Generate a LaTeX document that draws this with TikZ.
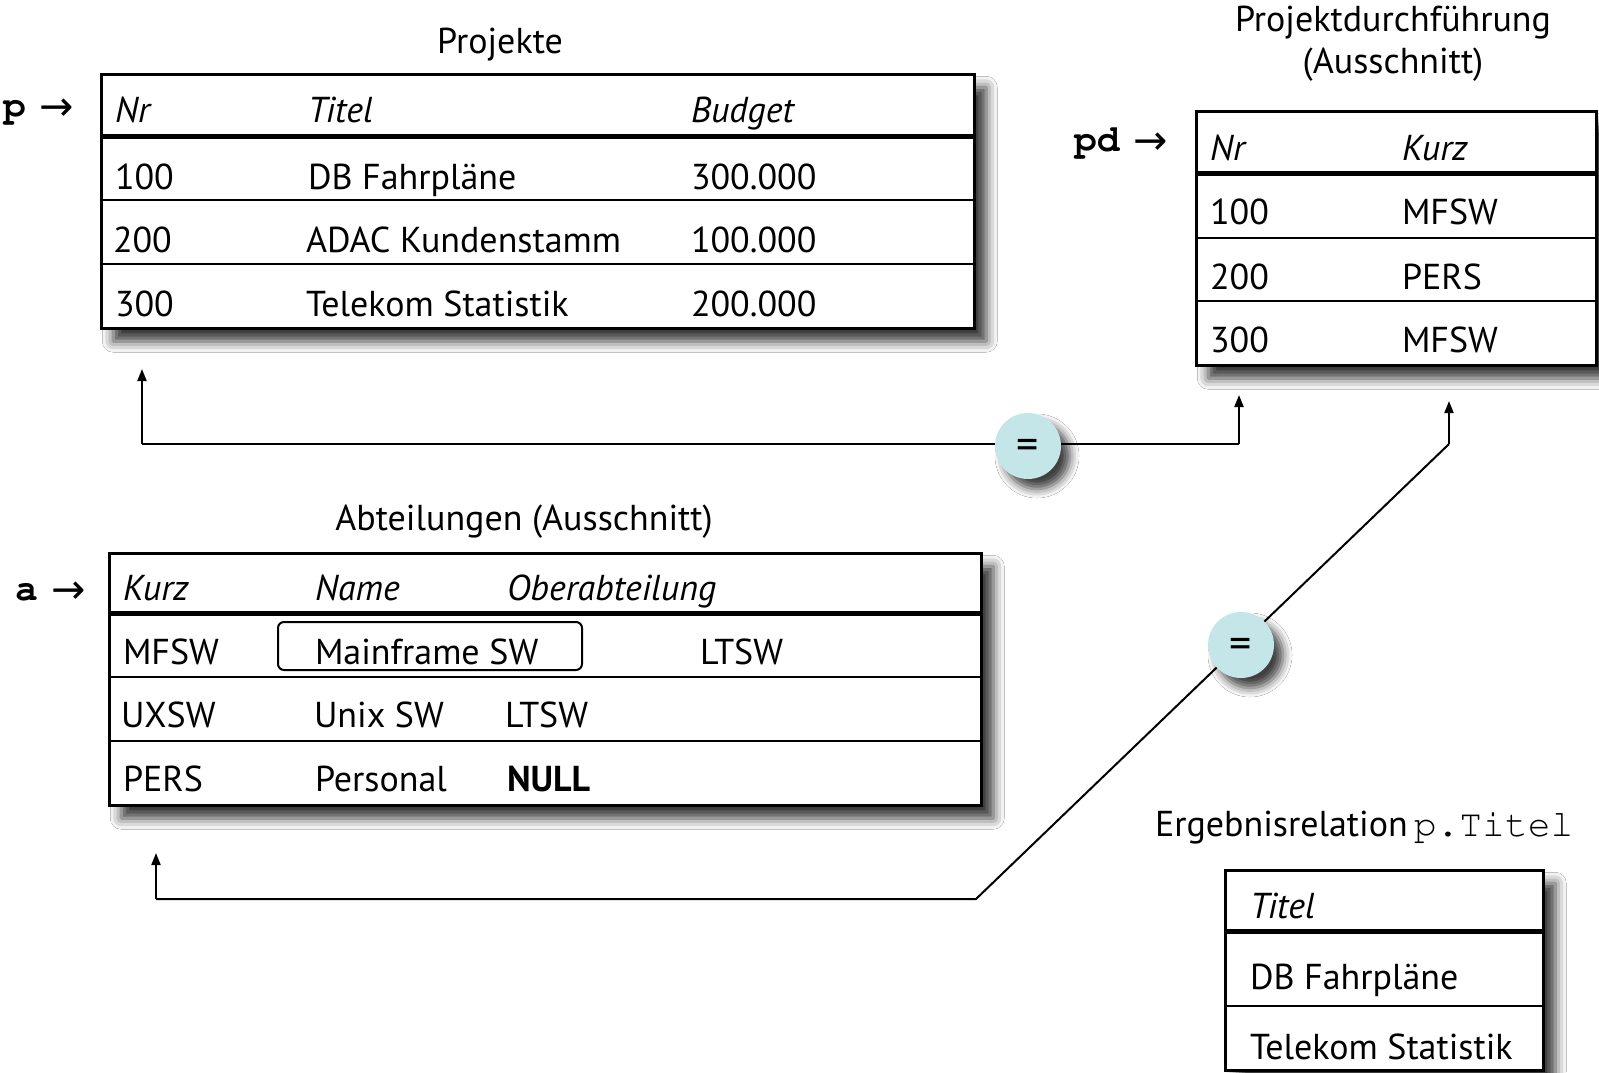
\documentclass[tikz,border=0pt]{standalone}
\usepackage{fontspec}
\setmainfont{PT Sans}
\newfontfamily\arrowfont{DejaVu Sans}
\usetikzlibrary{arrows.meta,shadows.blur}

\definecolor{eqfill}{HTML}{C4E6E8}
\newcommand{\cour}{\fontencoding{OT1}\fontfamily{pcr}\selectfont}
\newcommand{\varlabel}[1]{{\cour\bfseries\fontsize{38}{40}\selectfont #1}\hspace{14pt}\raisebox{-3pt}{\arrowfont\fontsize{41}{44}\selectfont →}}

\begin{document}
\begin{tikzpicture}[x=1pt,y=-1pt,
  base/.style={inner sep=0pt,outer sep=0pt,font=\fontsize{36}{40}\selectfont},
  txt/.style={base,anchor=base west},
  hd/.style={txt,font=\fontsize{36}{40}\selectfont\itshape},
  ttl/.style={base,anchor=base},
  var/.style={base,anchor=base west},
  frame/.style={draw,line width=2.5pt,fill=white,anchor=north west,inner sep=0pt,
    blur shadow={shadow xshift=12pt,shadow yshift=-13pt,shadow blur radius=11pt,shadow opacity=80}},
  headrule/.style={line width=5pt},
  rowrule/.style={line width=2pt},
  link/.style={line width=2pt},
  tip/.style={-{Triangle[length=12pt,width=9pt]}},
  eq/.style={circle,fill=eqfill,minimum size=66pt,inner sep=0pt,
    blur shadow={shadow xshift=9pt,shadow yshift=-10pt,shadow blur radius=9pt,shadow opacity=75}},
  eqsign/.style={inner sep=0pt,font=\fontsize{44}{44}\selectfont},
]
\useasboundingbox (0,0) rectangle (1599,1072);
\fill[white] (0,0) rectangle (1599,1072);

% ---------- table Projekte ----------
\node[ttl] (tProj) at (500,53) {Projekte};
\node[var] (vp) at (3,117) {\varlabel{p}};
\node[frame,minimum width=873pt,minimum height=254pt] (projekte) at (100,73) {};
\draw[headrule] (100,136) -- (973,136);
\draw[rowrule] (100,200) -- (973,200);
\draw[rowrule] (100,264) -- (973,264);
\node[hd] (pH1) at (115,122) {Nr};
\node[hd] (pH2) at (308,122) {Titel};
\node[hd] (pH3) at (691,122) {Budget};
\node[txt] (p11) at (115,189) {100};
\node[txt] (p12) at (308,189) {DB Fahrpläne};
\node[txt] (p13) at (691,189) {300.000};
\node[txt] (p21) at (113,252) {200};
\node[txt] (p22) at (306,252) {ADAC Kundenstamm};
\node[txt] (p23) at (691,252) {100.000};
\node[txt] (p31) at (115,316) {300};
\node[txt] (p32) at (306,316) {Telekom Statistik};
\node[txt] (p33) at (691,316) {200.000};

% ---------- table Projektdurchführung ----------
\node[ttl] (tPd1) at (1393,31) {Projektdurchführung};
\node[ttl] (tPd2) at (1393,73) {(Ausschnitt)};
\node[var] (vpd) at (1074,151) {\varlabel{pd}};
\node[frame,minimum width=400pt,minimum height=254pt] (pdtab) at (1195,110) {};
\draw[headrule] (1195,173) -- (1595,173);
\draw[rowrule] (1195,238) -- (1595,238);
\draw[rowrule] (1195,301) -- (1595,301);
\node[hd] (dH1) at (1210,160) {Nr};
\node[hd] (dH2) at (1402,160) {Kurz};
\node[txt] (d11) at (1210,224) {100};
\node[txt] (d12) at (1402,224) {MFSW};
\node[txt] (d21) at (1210,289) {200};
\node[txt] (d22) at (1402,289) {PERS};
\node[txt] (d31) at (1210,352) {300};
\node[txt] (d32) at (1402,352) {MFSW};

% ---------- table Abteilungen ----------
\node[ttl] (tAbt) at (524,530) {Abteilungen (Ausschnitt)};
\node[var] (va) at (15,600) {\varlabel{a}};
\node[frame,minimum width=872pt,minimum height=252pt] (abt) at (108,552) {};
\draw[headrule] (108,613) -- (980,613);
\draw[rowrule] (108,677) -- (980,677);
\draw[rowrule] (108,741) -- (980,741);
\node[hd] (aH1) at (123,600) {Kurz};
\node[hd] (aH2) at (315,600) {Name};
\node[hd] (aH3) at (507,600) {Oberabteilung};
\node[txt] (a11) at (123,664) {MFSW};
\node[txt] (a12) at (315,664) {Mainframe SW};
\node[txt] (a13) at (700,664) {LTSW};
\node[txt] (a21) at (121,727) {UXSW};
\node[txt] (a22) at (314,727) {Unix SW};
\node[txt] (a23) at (505,727) {LTSW};
\node[txt] (a31) at (123,791) {PERS};
\node[txt] (a32) at (315,791) {Personal};
\node[txt,font=\fontsize{36}{40}\selectfont\bfseries] (a33) at (507,791) {NULL};
\draw[rowrule,rounded corners=6pt] (278,622) rectangle (582,670);

% ---------- result table ----------
\node[var] (tRes) at (1155,836) {Ergebnisrelation\,{\cour\fontsize{38}{40}\selectfont p.Titel}};
\node[frame,minimum width=318pt,minimum height=200pt] (res) at (1224,869) {};
\draw[headrule] (1224,931) -- (1542,931);
\draw[rowrule] (1224,1006) -- (1542,1006);
\node[hd] (rH1) at (1250,918) {Titel};
\node[txt] (r11) at (1250,989) {DB Fahrpläne};
\node[txt] (r21) at (1250,1059) {Telekom Statistik};

% ---------- join conditions ----------
\coordinate (up1) at (142,369);
\coordinate (k1) at (142,444);
\coordinate (k2) at (1239,444);
\coordinate (up2) at (1239,395);
\coordinate (up3) at (156,853);
\coordinate (k3) at (156,899);
\coordinate (k4) at (976,899);
\coordinate (k5) at (1449,444);
\coordinate (up4) at (1449,401);
\coordinate (e1) at (1028,446);
\coordinate (e2) at (1241,645);

\draw[link] (k1) -- (k2);
\draw[link,tip] (k1) -- (up1);
\draw[link,tip] (k2) -- (up2);
\draw[link] (k3) -- (k4) -- (k5);
\draw[link,tip] (k3) -- (up3);
\draw[link,tip] (k5) -- (up4);

\node[eq] (eq1) at (e1) {};
\node[eq] (eq2) at (e2) {};
\node[eqsign] (eqs1) at ([yshift=-3pt]eq1.center) {=};
\node[eqsign] (eqs2) at ([yshift=-3pt]eq2.center) {=};
\end{tikzpicture}
\end{document}
